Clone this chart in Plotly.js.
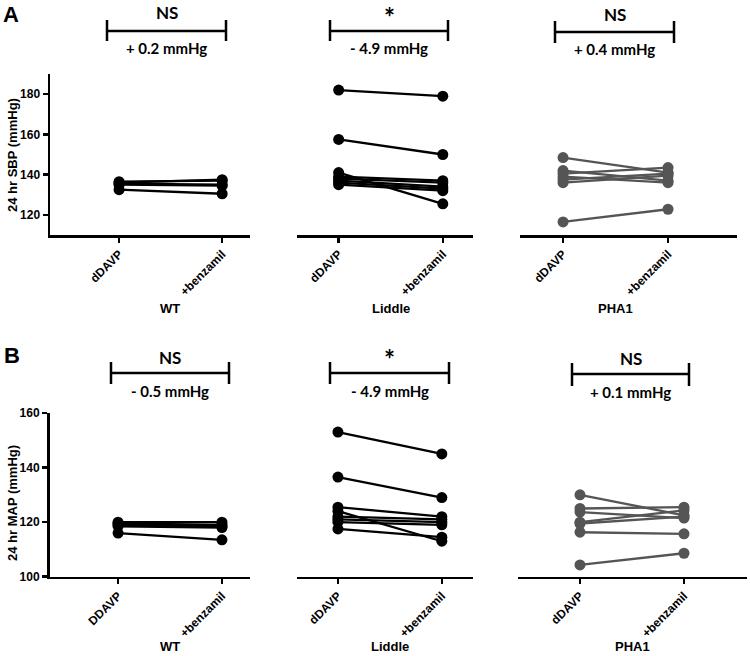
<!DOCTYPE html>
<html><head><meta charset="utf-8">
<script src="https://cdn.plot.ly/plotly-3.0.1.min.js"></script>
<style>body{margin:0;padding:0;background:#fff}</style>
</head><body><div id="chart" style="width:750px;height:656px"></div>
<script>
// ---- data ----
const conditionsA = ['dDAVP', '+benzamil'];
const conditionsB_WT = ['DDAVP', '+benzamil'];
const conditionsB = ['dDAVP', '+benzamil'];
const groups = ['WT', 'Liddle', 'PHA1'];

// Panel A: 24 hr SBP (mmHg)
const sbpWT_dDAVP    = [136.5, 136, 135.5, 135, 132.5];
const sbpWT_benz     = [137, 137.5, 135, 134.5, 130.5];
const sbpLid_dDAVP   = [182, 157.5, 141, 139, 138, 137, 136, 135];
const sbpLid_benz    = [179, 150, 125.5, 137, 136, 134, 133, 132];
const sbpPHA_dDAVP   = [148.5, 142, 140.5, 139, 137.5, 136, 116.5];
const sbpPHA_benz    = [141, 137, 143.5, 136, 140.5, 139.5, 122.8];

// Panel B: 24 hr MAP (mmHg)
const mapWT_dDAVP    = [120, 119.5, 119, 118.5, 116];
const mapWT_benz     = [120, 119, 118.5, 118, 113.5];
const mapLid_dDAVP   = [153, 136.5, 125.5, 124, 122, 121, 120, 117.5];
const mapLid_benz    = [145, 129, 122, 113, 121, 120, 119, 114.5];
const mapPHA_dDAVP   = [130, 125, 123.7, 120, 119.5, 116.3, 104.3];
const mapPHA_benz    = [122.5, 125.5, 121.5, 124.3, 122, 115.7, 108.6];

const statA = ['NS', '*', 'NS'];
const diffA = ['+ 0.2 mmHg', '- 4.9 mmHg', '+ 0.4 mmHg'];
const statB = ['NS', '*', 'NS'];
const diffB = ['- 0.5 mmHg', '- 4.9 mmHg', '+ 0.1 mmHg'];
const yTitleA = '24 hr SBP (mmHg)';
const yTitleB = '24 hr MAP (mmHg)';

// ---- layout helpers ----
const W = 750, H = 656;
const X = p => p / W;
const Y = p => 1 - p / H;
const BLACK = '#000000', GRAY = '#555555';
const SANS = 'Liberation Sans, Arial, sans-serif';
const tickFont = {family: SANS, size: 12, color: '#000', weight: 700};
const brFont = 'Lato, Open Sans, sans-serif';

const traces = [];
function addPairs(cats, a, b, xa, ya, color) {
  for (let i = 0; i < a.length; i++) {
    traces.push({
      type: 'scatter', mode: 'lines+markers', x: cats, y: [a[i], b[i]],
      xaxis: xa, yaxis: ya, showlegend: false, hoverinfo: 'skip',
      line: {color: color, width: 2.3}, marker: {color: color, size: 11}
    });
  }
}
addPairs(conditionsA, sbpWT_dDAVP, sbpWT_benz, 'x', 'y', BLACK);
addPairs(conditionsA, sbpLid_dDAVP, sbpLid_benz, 'x2', 'y', BLACK);
addPairs(conditionsA, sbpPHA_dDAVP, sbpPHA_benz, 'x3', 'y', GRAY);
addPairs(conditionsB_WT, mapWT_dDAVP, mapWT_benz, 'x4', 'y2', BLACK);
addPairs(conditionsB, mapLid_dDAVP, mapLid_benz, 'x5', 'y2', BLACK);
addPairs(conditionsB, mapPHA_dDAVP, mapPHA_benz, 'x6', 'y2', GRAY);

function xax(cats, x0, x1, r, anchor) {
  return {
    type: 'category', categoryarray: cats, domain: [X(x0), X(x1)], range: r, anchor: anchor,
    showline: true, linecolor: '#000', linewidth: 2.5, ticks: 'outside', ticklen: 5, tickwidth: 2.5,
    tickcolor: '#000', tickangle: -45, tickfont: tickFont, showgrid: false, zeroline: false, fixedrange: true
  };
}
function yax(range, py0, py1, anchor) {
  return {
    range: range, domain: [Y(py1), Y(py0)], anchor: anchor,
    showline: true, linecolor: '#000', linewidth: 2.5, ticks: 'outside', ticklen: 5, tickwidth: 2.5,
    tickcolor: '#000', tickfont: {family: SANS, size: 12, color: '#000', weight: 700},
    showgrid: false, zeroline: false, fixedrange: true
  };
}

const layout = {
  width: W, height: H, margin: {l: 0, r: 0, t: 0, b: 0},
  paper_bgcolor: '#fff', plot_bgcolor: '#fff', showlegend: false,
  xaxis:  xax(conditionsA, 50, 250, [-0.67, 1.27], 'y'),
  xaxis2: xax(conditionsA, 297, 473, [-0.40, 1.29], 'y'),
  xaxis3: xax(conditionsA, 520, 737, [-0.41, 1.657], 'y'),
  xaxis4: xax(conditionsB_WT, 49.5, 250, [-0.66, 1.27], 'y2'),
  xaxis5: xax(conditionsB, 297, 473, [-0.394, 1.30], 'y2'),
  xaxis6: xax(conditionsB, 518, 747, [-0.596, 1.606], 'y2'),
  yaxis:  yax([110, 190], 74, 235, 'x'),
  yaxis2: yax([100, 160], 413, 576.7, 'x4'),
  shapes: [], annotations: []
};
layout.yaxis.tickvals = [120, 140, 160, 180];
layout.yaxis2.tickvals = [100, 120, 140, 160];

function ann(text, px, py, size, opts) {
  layout.annotations.push(Object.assign({
    text: text, x: X(px), y: Y(py), xref: 'paper', yref: 'paper', showarrow: false,
    xanchor: 'center', yanchor: 'middle',
    font: {family: brFont, size: size, color: '#000', weight: 700}
  }, opts || {}));
}
function bracket(x0, x1, py, h0, h1) {
  const line = {color: '#000', width: 2.5};
  layout.shapes.push({type: 'line', xref: 'paper', yref: 'paper', x0: X(x0), x1: X(x1), y0: Y(py), y1: Y(py), line: line});
  layout.shapes.push({type: 'line', xref: 'paper', yref: 'paper', x0: X(x0), x1: X(x0), y0: Y(h0), y1: Y(h1), line: line});
  layout.shapes.push({type: 'line', xref: 'paper', yref: 'paper', x0: X(x1), x1: X(x1), y0: Y(h0), y1: Y(h1), line: line});
}

// Panel letters
const letterFont = {family: SANS, size: 22, color: '#000', weight: 700};
ann('A', 11, 15, 22, {font: letterFont});
ann('B', 12, 355, 22, {font: letterFont});

// Brackets
const brA = [[107, 226, 31, 20, 41], [330, 448, 31, 20, 41], [555, 674, 32, 21, 43]];
const brB = [[111, 229, 373, 362, 384], [330, 449, 373, 362, 384], [572, 689, 374, 363, 386]];
brA.forEach((b, i) => {
  bracket(b[0], b[1], b[2], b[3], b[4]);
  const cx = (b[0] + b[1]) / 2;
  if (statA[i] === '*') ann(statA[i], cx, b[2] - 14, 26); else ann(statA[i], cx, b[2] - 18, 17);
  ann(diffA[i], cx, b[2] + 17, 15);
});
brB.forEach((b, i) => {
  bracket(b[0], b[1], b[2], b[3], b[4]);
  const cx = (b[0] + b[1]) / 2;
  if (statB[i] === '*') ann(statB[i], cx, b[2] - 14, 26); else ann(statB[i], cx, b[2] - 16, 17);
  ann(diffB[i], cx, b[2] + 18, 15);
});

// Group labels
const gxA = [170, 391, 615], gxB = [170, 390, 632];
const grpFont = {family: SANS, size: 13, color: '#000', weight: 700};
groups.forEach((g, i) => {
  ann(g, gxA[i], 308, 13, {font: grpFont});
  ann(g, gxB[i], 646, 13, {font: grpFont});
});

// Y titles
ann(yTitleA, 12, 155, 13, {textangle: -90, font: grpFont});
ann(yTitleB, 12, 503, 13, {textangle: -90, font: grpFont});

Plotly.newPlot('chart', traces, layout, {staticPlot: true, displayModeBar: false});
</script></body></html>
